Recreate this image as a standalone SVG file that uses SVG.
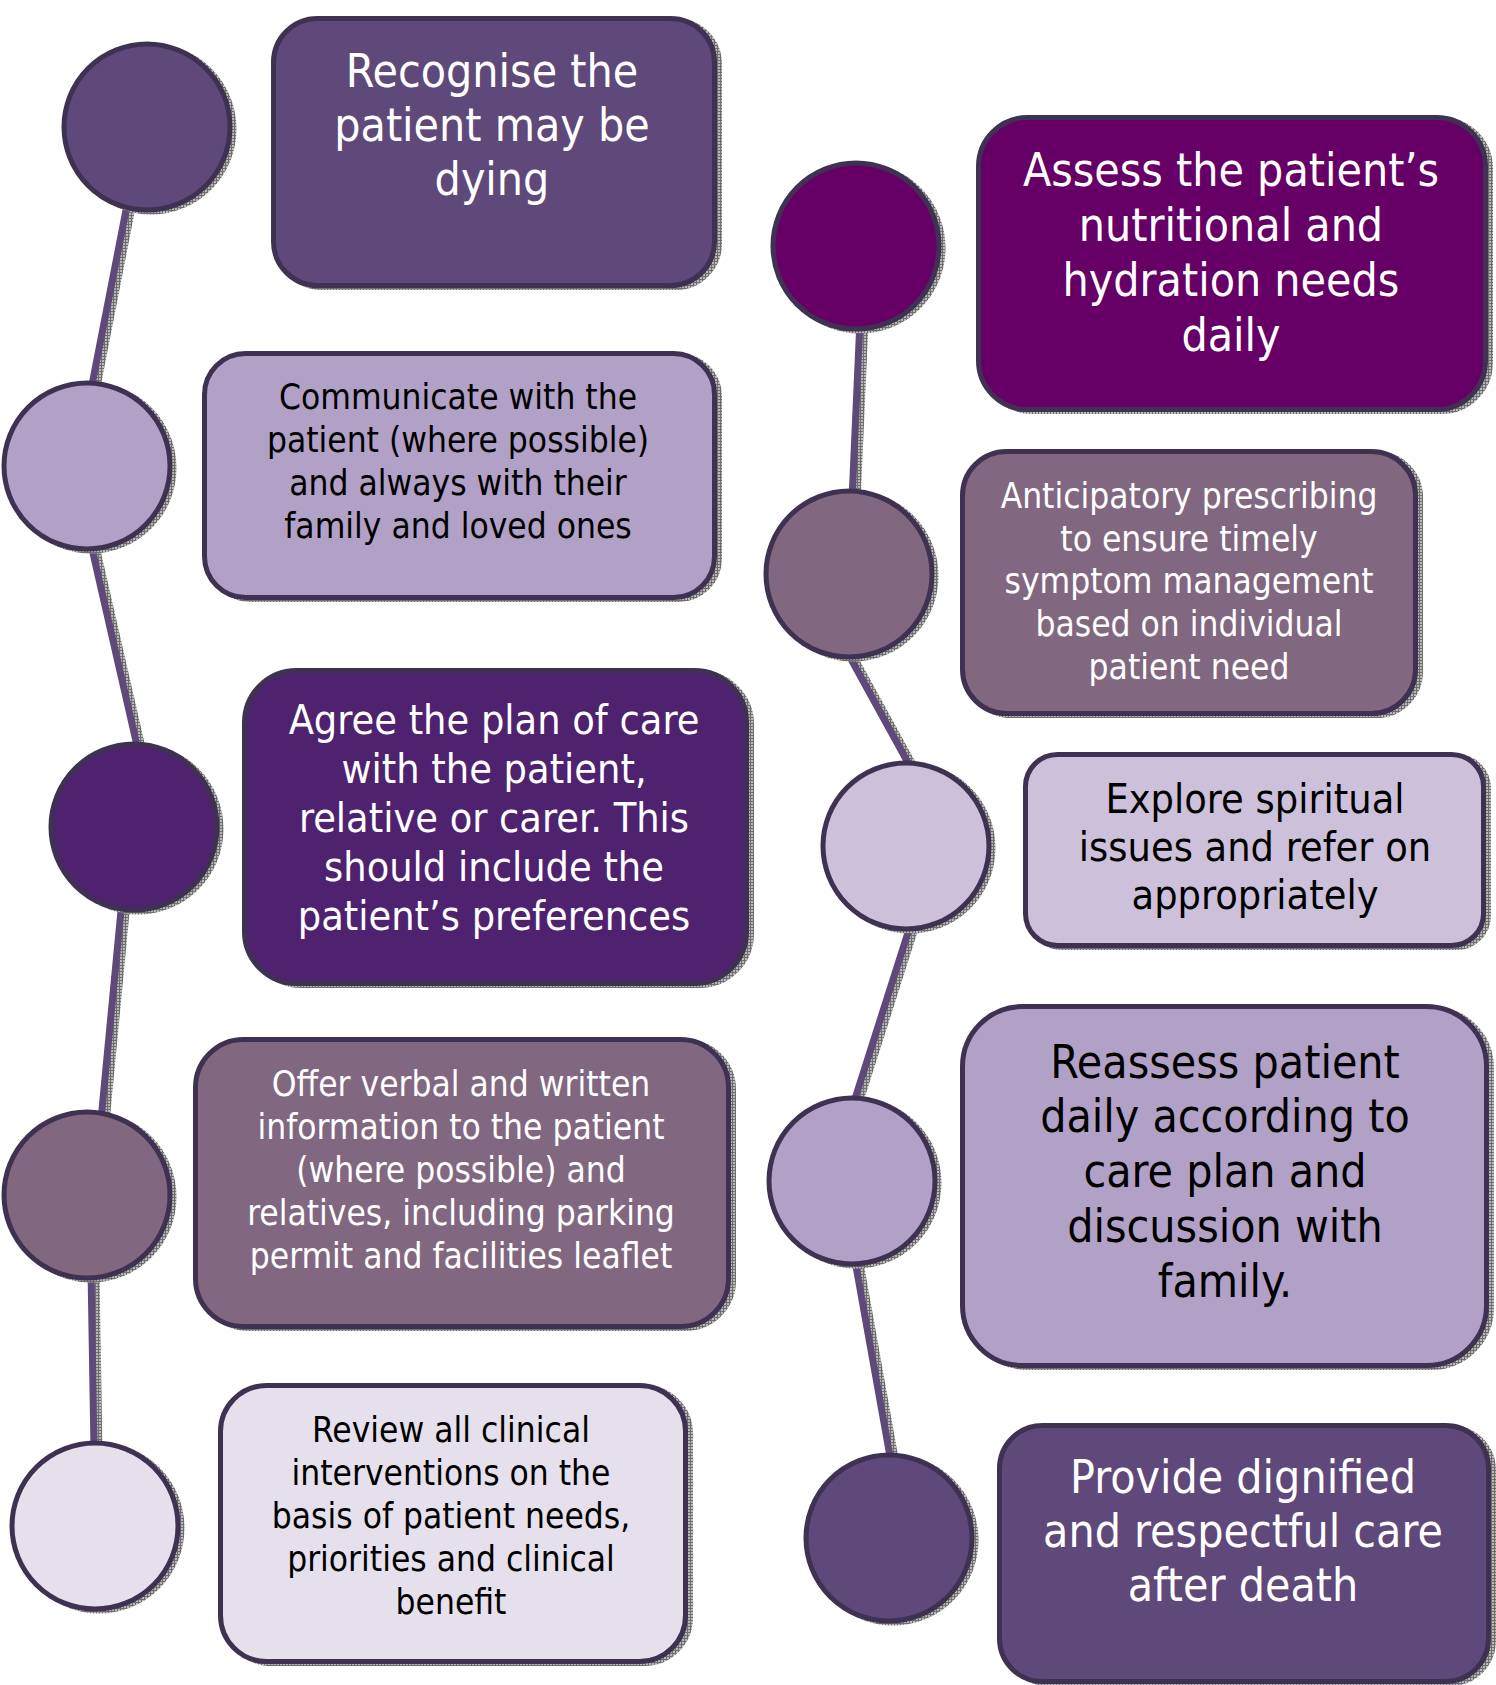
<svg xmlns="http://www.w3.org/2000/svg" width="1496" height="1685" viewBox="0 0 1496 1685">
<defs>
<pattern id="dith" width="3" height="3" patternUnits="userSpaceOnUse">
<rect width="3" height="3" fill="#b8b8b8"/>
<rect width="3" height="1" fill="#6e6e6e"/>
<rect width="1" height="3" fill="#6e6e6e"/>
</pattern>
</defs>
<style>
.t{font-family:"DejaVu Sans Condensed","DejaVu Sans",sans-serif;font-stretch:condensed;text-anchor:middle}
.w{fill:#ffffff}.k{fill:#000000}
.L{font-size:46px}.M{font-size:41px}.S{font-size:35px}
.box{stroke:#3F3151;stroke-width:5}
.sh{fill:url(#dith);stroke:url(#dith);stroke-width:5}
.ln{stroke:#5F497A;stroke-width:7;fill:none}
.lns{stroke:url(#dith);stroke-width:7;fill:none}
</style>
<rect width="1496" height="1685" fill="#ffffff"/>
<g id="connectors">
<g transform="translate(5,2)">
<path class="lns" d="M128,200 L91,390 M90,540 L138,750 M122,900 L101,1120 M91,1270 L94,1450 M860,320 L852,500 M846,650 L912,770 M912,920 L853,1105 M854,1255 L891,1462"/>
</g>
<path class="ln" d="M128,200 L91,390 M90,540 L138,750 M122,900 L101,1120 M91,1270 L94,1450 M860,320 L852,500 M846,650 L912,770 M912,920 L853,1105 M854,1255 L891,1462"/>
</g>
<g id="c1"><circle class="sh" cx="151" cy="129" r="83"/><circle class="box" cx="147" cy="127" r="83" fill="#5F497A"/></g>
<g id="c2"><circle class="sh" cx="91" cy="468" r="83"/><circle class="box" cx="87" cy="466" r="83" fill="#B2A1C7"/></g>
<g id="c3"><circle class="sh" cx="138" cy="829" r="83"/><circle class="box" cx="134" cy="827" r="83" fill="#4F2270"/></g>
<g id="c4"><circle class="sh" cx="91" cy="1197" r="83"/><circle class="box" cx="87" cy="1195" r="83" fill="#826780"/></g>
<g id="c5"><circle class="sh" cx="99" cy="1528" r="83"/><circle class="box" cx="95" cy="1526" r="83" fill="#E5E0EC"/></g>
<g id="c6"><circle class="sh" cx="860" cy="248" r="83"/><circle class="box" cx="856" cy="246" r="83" fill="#660066"/></g>
<g id="c7"><circle class="sh" cx="853" cy="576" r="83"/><circle class="box" cx="849" cy="574" r="83" fill="#826780"/></g>
<g id="c8"><circle class="sh" cx="910" cy="848" r="83"/><circle class="box" cx="906" cy="846" r="83" fill="#CCC0DA"/></g>
<g id="c9"><circle class="sh" cx="856" cy="1183" r="83"/><circle class="box" cx="852" cy="1181" r="83" fill="#B2A1C7"/></g>
<g id="c10"><circle class="sh" cx="893" cy="1540" r="83"/><circle class="box" cx="889" cy="1538" r="83" fill="#5F497A"/></g>

<g id="b1">
<rect class="sh" x="278.5" y="20.5" width="441" height="267" rx="44"/>
<rect class="box" x="273.5" y="18.5" width="441" height="267" rx="44" fill="#5F497A"/>
<text class="t w L"><tspan x="492" y="87">Recognise the</tspan><tspan x="492" y="141">patient may be</tspan><tspan x="492" y="195">dying</tspan></text>
</g>
<g id="b2">
<rect class="sh" x="209.5" y="355.5" width="510" height="244" rx="41"/>
<rect class="box" x="204.5" y="353.5" width="510" height="244" rx="41" fill="#B2A1C7"/>
<text class="t k S"><tspan x="458" y="409">Communicate with the</tspan><tspan x="458" y="452">patient (where possible)</tspan><tspan x="458" y="495">and always with their</tspan><tspan x="458" y="538">family and loved ones</tspan></text>
</g>
<g id="b3">
<rect class="sh" x="249.5" y="672.5" width="502" height="313" rx="52"/>
<rect class="box" x="244.5" y="670.5" width="502" height="313" rx="52" fill="#4F2270"/>
<text class="t w M"><tspan x="494" y="734">Agree the plan of care</tspan><tspan x="494" y="783">with the patient,</tspan><tspan x="494" y="832">relative or carer. This</tspan><tspan x="494" y="881">should include the</tspan><tspan x="494" y="930">patient’s preferences</tspan></text>
</g>
<g id="b4">
<rect class="sh" x="200.5" y="1041.5" width="533" height="287" rx="48"/>
<rect class="box" x="195.5" y="1039.5" width="533" height="287" rx="48" fill="#826780"/>
<text class="t w S"><tspan x="461" y="1096">Offer verbal and written</tspan><tspan x="461" y="1139">information to the patient</tspan><tspan x="461" y="1182">(where possible) and</tspan><tspan x="461" y="1225">relatives, including parking</tspan><tspan x="461" y="1268">permit and facilities leaflet</tspan></text>
</g>
<g id="b5">
<rect class="sh" x="225.5" y="1387.5" width="465" height="276" rx="46"/>
<rect class="box" x="220.5" y="1385.5" width="465" height="276" rx="46" fill="#E5E0EC"/>
<text class="t k S"><tspan x="451" y="1442">Review all clinical</tspan><tspan x="451" y="1485">interventions on the</tspan><tspan x="451" y="1528">basis of patient needs,</tspan><tspan x="451" y="1571">priorities and clinical</tspan><tspan x="451" y="1614">benefit</tspan></text>
</g>
<g id="b6">
<rect class="sh" x="983.5" y="119.5" width="507" height="292" rx="49"/>
<rect class="box" x="978.5" y="117.5" width="507" height="292" rx="49" fill="#660066"/>
<text class="t w L"><tspan x="1231" y="186">Assess the patient’s</tspan><tspan x="1231" y="241">nutritional and</tspan><tspan x="1231" y="296">hydration needs</tspan><tspan x="1231" y="351">daily</tspan></text>
</g>
<g id="b7">
<rect class="sh" x="967.5" y="453.5" width="453" height="262" rx="44"/>
<rect class="box" x="962.5" y="451.5" width="453" height="262" rx="44" fill="#826780"/>
<text class="t w S"><tspan x="1189" y="508">Anticipatory prescribing</tspan><tspan x="1189" y="551">to ensure timely</tspan><tspan x="1189" y="593">symptom management</tspan><tspan x="1189" y="636">based on individual</tspan><tspan x="1189" y="679">patient need</tspan></text>
</g>
<g id="b8">
<rect class="sh" x="1030.5" y="756.5" width="458" height="191" rx="32"/>
<rect class="box" x="1025.5" y="754.5" width="458" height="191" rx="32" fill="#CCC0DA"/>
<text class="t k M"><tspan x="1255" y="813">Explore spiritual</tspan><tspan x="1255" y="861">issues and refer on</tspan><tspan x="1255" y="909">appropriately</tspan></text>
</g>
<g id="b9">
<rect class="sh" x="967.5" y="1008.5" width="524" height="359" rx="60"/>
<rect class="box" x="962.5" y="1006.5" width="524" height="359" rx="60" fill="#B2A1C7"/>
<text class="t k L"><tspan x="1225" y="1078">Reassess patient</tspan><tspan x="1225" y="1132">daily according to</tspan><tspan x="1225" y="1187">care plan and</tspan><tspan x="1225" y="1242">discussion with</tspan><tspan x="1225" y="1297">family.</tspan></text>
</g>
<g id="b10">
<rect class="sh" x="1004.5" y="1427.5" width="489" height="256" rx="43"/>
<rect class="box" x="999.5" y="1425.5" width="489" height="256" rx="43" fill="#5F497A"/>
<text class="t w L"><tspan x="1243" y="1493">Provide dignified</tspan><tspan x="1243" y="1547">and respectful care</tspan><tspan x="1243" y="1601">after death</tspan></text>
</g>
</svg>
